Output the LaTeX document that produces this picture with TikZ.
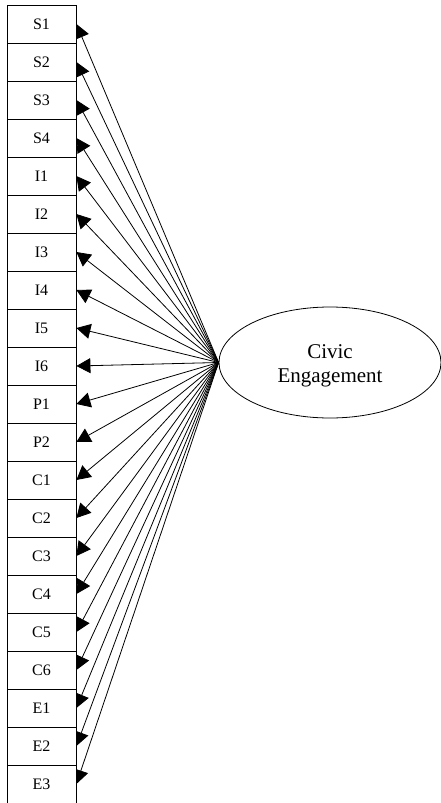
\documentclass[tikz,border=0pt]{standalone}
\usepackage{fontspec}
\setmainfont{Liberation Serif}
\usetikzlibrary{shapes.geometric,arrows.meta,backgrounds}

\begin{document}
\begin{tikzpicture}[x=1pt,y=-1pt,node distance=38pt,
		item node/.style={rectangle,draw,fill=white,line width=0.8pt,minimum width=69pt,minimum height=38pt,inner sep=0pt,font=\fontsize{16}{19}\selectfont},
		factor node/.style={ellipse,draw,line width=0.8pt,minimum width=222pt,minimum height=111pt,inner sep=0pt,align=center,font=\fontsize{21}{24.5}\selectfont},
		load/.style={-{Triangle[length=14pt,width=15pt]},line width=0.8pt}]
		
		\useasboundingbox (0,0) rectangle (441,803);
		
		\node[item node] (s1) at (41.5,24) {S1};
		\node[item node] (s2) [below of=s1] {S2};
		\node[item node] (s3) [below of=s2] {S3};
		\node[item node] (s4) [below of=s3] {S4};
		\node[item node] (i1) [below of=s4] {I1};
		\node[item node] (i2) [below of=i1] {I2};
		\node[item node] (i3) [below of=i2] {I3};
		\node[item node] (i4) [below of=i3] {I4};
		\node[item node] (i5) [below of=i4] {I5};
		\node[item node] (i6) [below of=i5] {I6};
		\node[item node] (p1) [below of=i6] {P1};
		\node[item node] (p2) [below of=p1] {P2};
		\node[item node] (c1) [below of=p2] {C1};
		\node[item node] (c2) [below of=c1] {C2};
		\node[item node] (c3) [below of=c2] {C3};
		\node[item node] (c4) [below of=c3] {C4};
		\node[item node] (c5) [below of=c4] {C5};
		\node[item node] (c6) [below of=c5] {C6};
		\node[item node] (e1) [below of=c6] {E1};
		\node[item node] (e2) [below of=e1] {E2};
		\node[item node] (e3) [below of=e2] {E3};
		
		\node[factor node] (ce) at (330,362.5) {\raisebox{-3.5pt}[\height][\depth]{Civic}\\\raisebox{-3.5pt}[\height][\depth]{Engagement}};
		
		% loadings go under the boxes
		\begin{scope}[on background layer]
		\path[load]
		(ce.west) edge (s1.east)
		(ce.west) edge (s2.east)
		(ce.west) edge (s3.east)
		(ce.west) edge (s4.east)
		(ce.west) edge (i1.east)
		(ce.west) edge (i2.east)
		(ce.west) edge (i3.east)
		(ce.west) edge (i4.east)
		(ce.west) edge (i5.east)
		(ce.west) edge (i6.east)
		(ce.west) edge (p1.east)
		(ce.west) edge (p2.east)
		(ce.west) edge (c1.east)
		(ce.west) edge (c2.east)
		(ce.west) edge (c3.east)
		(ce.west) edge (c4.east)
		(ce.west) edge (c5.east)
		(ce.west) edge (c6.east)
		(ce.west) edge (e1.east)
		(ce.west) edge (e2.east)
		(ce.west) edge (e3.east);
		\end{scope}
\end{tikzpicture}
\end{document}
